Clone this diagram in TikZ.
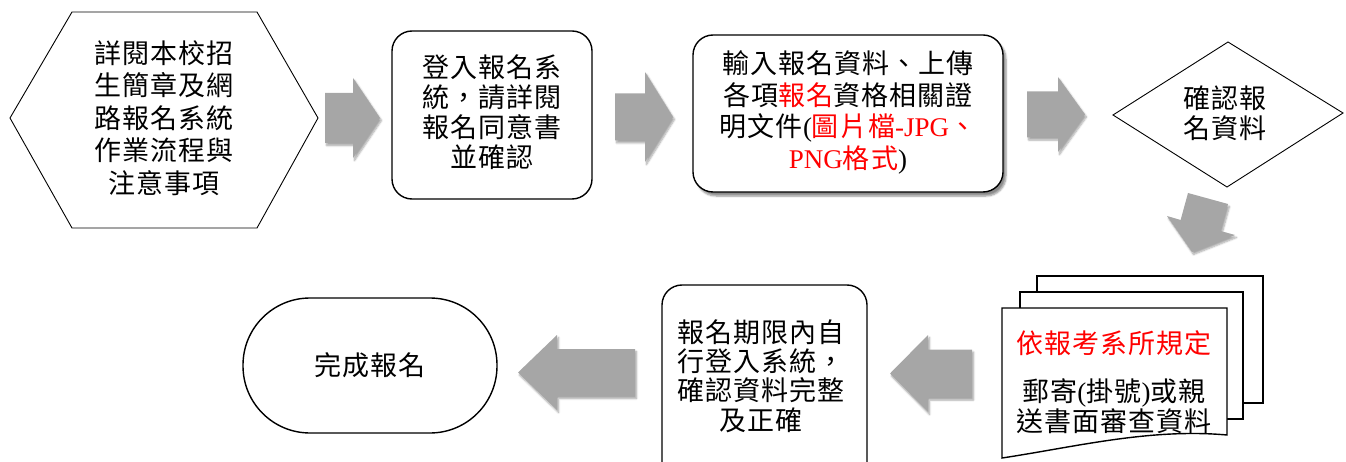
\documentclass[tikz,border=0pt]{standalone}
\usepackage{fontspec}
\setmainfont{Liberation Serif}
\newfontfamily\cjk[LetterSpace=4]{Noto Sans CJK TC}
\usetikzlibrary{shadows.blur}
\definecolor{arrowgray}{HTML}{A6A6A6}
\definecolor{red}{HTML}{FF0000}
\newcommand\lat[1]{{\rmfamily #1}}
\tikzset{
  garrow/.style={fill=arrowgray, draw=none,
    blur shadow={shadow xshift=1.5pt, shadow yshift=-2.5pt, shadow blur steps=6, shadow opacity=35}},
  thinshape/.style={draw, line width=0.9pt, fill=white, line join=miter},
  boxshape/.style={draw, line width=1.4pt, fill=white, rounded corners=20pt},
  lbl/.style={align=center, inner sep=0pt, font=\cjk\fontsize{27}{30}\selectfont},
}
\begin{document}
\begin{tikzpicture}[x=1pt,y=-1pt]
\useasboundingbox (0,0) rectangle (1346,462);
% hexagon
\draw[thinshape] (10,118) -- (72,12) -- (257,12) -- (318,118) -- (257,228) -- (72,228) -- cycle;
\node[lbl, font=\cjk\fontsize{27}{32.5}\selectfont] (n1) at (164,118) {詳閱本校招\\生簡章及網\\路報名系統\\作業流程與\\注意事項};
% arrow 1
\fill[garrow] (325,93) -- (353,93) -- (353,78) -- (380,118) -- (353,158) -- (353,143) -- (325,143) -- cycle;
% box 2
\draw[boxshape] (392,31) rectangle (592,199);
\node[lbl] (n2) at (492,112) {登入報名系\\統，請詳閱\\報名同意書\\並確認};
% arrow 2
\fill[garrow] (615,93.5) -- (645,93.5) -- (645,72) -- (673,117) -- (645,162) -- (645,140.5) -- (615,140.5) -- cycle;
% box 3
\draw[boxshape, blur shadow={shadow xshift=3pt, shadow yshift=-4pt, shadow blur steps=6, shadow opacity=45}] (693,35) rectangle (1003,192);
\node[lbl, font=\cjk\fontsize{27}{31.7}\selectfont] (n3) at (848,112.5) {輸入報名資料、上傳\\各項\textcolor{red}{報名}資格相關證\\明文件\lat{(}\textcolor{red}{圖片檔\lat{-JPG}、}\\\textcolor{red}{\lat{PNG}格式}\lat{)}};
% arrow 3
\fill[garrow] (1027,91.5) -- (1058,91.5) -- (1058,77) -- (1085,114.5) -- (1058,152) -- (1058,137.5) -- (1027,137.5) -- cycle;
% diamond
\draw[thinshape] (1228,42) -- (1343,113) -- (1227,187) -- (1113,115) -- cycle;
\node[lbl] (n4) at (1225,113) {確認報\\名資料};
% arrow 4 (down, tilted)
\fill[garrow] (1188,193) -- (1228,204) -- (1220.6,231) -- (1235,235) -- (1192,252) -- (1167,216) -- (1180.6,220) -- cycle;
% multi document
\draw[line width=1.4pt, fill=white] (1037,276) rectangle (1263,403);
\draw[line width=1.4pt, fill=white] (1020,292) rectangle (1243,419);
\draw[line width=1.4pt, fill=white, line join=miter] (1002,458) -- (1002,308) -- (1227,308) -- (1227,435)
   .. controls (1150,428) and (1075,447) .. (1002,458) -- cycle;
\node[lbl, text=red] (n5a) at (1114,343) {依報考系所規定};
\node[lbl] (n5b) at (1114,406) {郵寄\lat{(}掛號\lat{)}或親\\送書面審查資料};
% arrow 5
\fill[garrow] (972,349.5) -- (928,349.5) -- (928,335) -- (890,373.5) -- (928,412) -- (928,397.5) -- (972,397.5) -- cycle;
% box 6 (cut at bottom)
\draw[line width=1.4pt, rounded corners=20pt] (662,475) |- (867,285) -- (867,475);
\node[lbl, font=\cjk\fontsize{27}{29.3}\selectfont] (n6) at (761,376) {報名期限內自\\行登入系統，\\確認資料完整\\及正確};
% arrow 6
\fill[garrow] (635,349) -- (557,349) -- (557,335) -- (518,372.5) -- (557,410) -- (557,396) -- (635,396) -- cycle;
% terminal
\draw[line width=1.4pt, fill=white] (243,298) [rounded corners=67pt] rectangle (497,433);
\node[lbl] (n7) at (370,365) {完成報名};
\end{tikzpicture}
\end{document}
